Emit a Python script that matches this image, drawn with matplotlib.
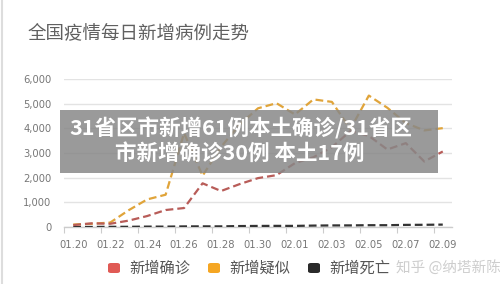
import matplotlib
matplotlib.use("Agg")
import matplotlib.pyplot as plt
from matplotlib.patches import FancyBboxPatch, Rectangle
from matplotlib.lines import Line2D
import numpy as np

plt.rcParams['font.family'] = ['Noto Sans CJK SC', 'DejaVu Sans']

# daily series, 01.20 .. 02.09
dates = ["01.20", "01.21", "01.22", "01.23", "01.24", "01.25", "01.26", "01.27",
         "01.28", "01.29", "01.30", "01.31", "02.01", "02.02", "02.03", "02.04",
         "02.05", "02.06", "02.07", "02.08", "02.09"]
confirmed = [77, 149, 131, 259, 444, 688, 769, 1771, 1459, 1737, 1982, 2102,
             2590, 2829, 3235, 3887, 3694, 3143, 3399, 2656, 3062]
suspected = [100, 130, 180, 680, 1118, 1309, 3806, 2077, 3248, 4148, 4812, 5019,
             4562, 5173, 5072, 3971, 5328, 4833, 4214, 3916, 4008]
deaths = [0, 3, 8, 8, 16, 15, 24, 26, 26, 38, 43, 46,
          45, 57, 64, 65, 73, 73, 86, 89, 97]
yticks = [0, 1000, 2000, 3000, 4000, 5000, 6000]

series = [
    ("新增确诊", confirmed, "#b85c58", "#e05a55"),
    ("新增疑似", suspected, "#e0a43a", "#f5a623"),
    ("新增死亡", deaths, "#333333", "#2a2a2a"),
]

W, H = 500, 284
fig = plt.figure(figsize=(W / 100, H / 100), dpi=100)
ax = fig.add_axes([64 / W, 1 - 227 / H, 388 / W, 148 / H])

x = np.arange(len(dates))
for name, vals, lc, _ in series[::-1]:
    ax.plot(x, vals, color=lc, lw=1.6, linestyle=(0, (3.5, 1.8)),
            solid_capstyle="butt", dash_capstyle="butt", zorder=3)

ax.set_xlim(-0.5, len(dates) - 0.5)
ax.set_ylim(0, 6000)
ax.set_yticks(yticks)
ax.set_yticklabels([f"{v:,}" for v in yticks])
ax.set_xticks(x[::2])
ax.set_xticklabels(dates[::2])
ax.set_xticks(np.arange(-0.5, len(dates), 2), minor=True)
ax.tick_params(axis="x", which="major", length=0, pad=9, labelsize=7.2, labelcolor="#777777")
ax.tick_params(axis="x", which="minor", length=4, width=0.8, color="#cccccc")
ax.tick_params(axis="y", length=0, pad=9, labelsize=7.2, labelcolor="#777777")
for t in ax.get_yticklabels() + ax.get_xticklabels():
    t.set_fontfamily(["DejaVu Sans"])
ax.grid(axis="y", color="#e3e3e3", lw=1)
ax.set_axisbelow(True)
for s in ["top", "right", "left"]:
    ax.spines[s].set_visible(False)
ax.spines["bottom"].set_color("#cccccc")
ax.spines["bottom"].set_linewidth(1)

# title
fig.text(28 / W, 1 - 33 / H, "全国疫情每日新增病例走势", fontsize=13.3,
         color="#606060", va="center", ha="left", fontweight="light")

# left border
fig.add_artist(Line2D([1.5 / W, 1.5 / W], [0, 1], color="#dddddd", lw=1.5))

# legend
lx = [108, 208, 308]
for (name, _, _, mc), px in zip(series, lx):
    fig.add_artist(FancyBboxPatch((px / W, 1 - 273 / H), 12 / W, 10 / H,
                                  boxstyle="round,pad=0,rounding_size=0.006",
                                  facecolor=mc, edgecolor="none"))
    fig.text((px + 21) / W, 1 - 268 / H, name, fontsize=11, color="#555555",
             va="center", ha="left")

# watermark
fig.text(396 / W, 1 - 267 / H, "知乎 @纳塔新陈", fontsize=10.5, color="#c8c8c8",
         va="center", ha="left", alpha=0.9)

# headline banner
fig.add_artist(Rectangle((60 / W, 1 - 173 / H), 378 / W, 63 / H,
                         facecolor="#888888", alpha=0.85, edgecolor="none", zorder=5))
fig.text(241 / W, 1 - 128 / H, "31省区市新增61例本土确诊/31省区", fontsize=15.5,
         color="white", fontweight="bold", ha="center", va="center", zorder=6)
fig.text(240 / W, 1 - 153 / H, "市新增确诊30例 本土17例", fontsize=15.5,
         color="white", fontweight="bold", ha="center", va="center", zorder=6)

fig.savefig("out.png", dpi=100)
